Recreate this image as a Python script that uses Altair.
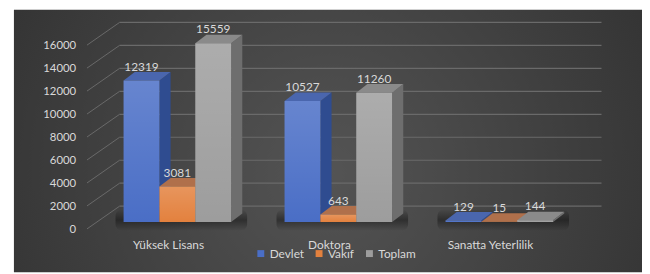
import altair as alt
import pandas as pd

categories = ["Yüksek Lisans", "Doktora", "Sanatta Yeterlilik"]
series = ["Devlet", "Vakıf", "Toplam"]
devlet = [12319, 10527, 129]
vakif = [3081, 643, 15]
toplam = [15559, 11260, 144]
y_ticks = [0, 2000, 4000, 6000, 8000, 10000, 12000, 14000, 16000]

# styles
FONT = "Lato"
TXT = "#d9d9d9"
front_colors = ["#4a6ec6", "#e3813e", "#9d9d9d"]
side_colors = ["#2f4c90", "#a95f2c", "#6e6e6e"]
top_colors = ["#4a66ae", "#b0704b", "#8a8a8a"]

W, H = 642, 266
BW = 0.2227          # bar width in category units
DX = 0.0693          # depth offset (x, category units)
DY = 748             # depth offset (y, value units)

values = [devlet, vakif, toplam]
front_rows, side_rows, top_rows = [], [], []
for i, cat in enumerate(categories):
    for j, ser in enumerate(series):
        v = values[j][i]
        xl = i - 1.5 * BW + j * BW
        xr = xl + BW
        bid = f"{i}-{j}"
        front_rows.append(dict(cat=cat, series=ser, value=v, xl=xl, xr=xr, xc=(xl + xr) / 2, base=0))
        side_rows.append(dict(id=bid, series=ser, x=xr, y=v, y2=0))
        side_rows.append(dict(id=bid, series=ser, x=xr + DX, y=v + DY, y2=DY))
        top_rows.append(dict(id=bid, series=ser, y=v, x=xl, x2=xr))
        top_rows.append(dict(id=bid, series=ser, y=v + DY, x=xl + DX, x2=xr + DX))

front_df = pd.DataFrame(front_rows)
side_df = pd.DataFrame(side_rows)
top_df = pd.DataFrame(top_rows)
tick_df = pd.DataFrame({"value": y_ticks})
cat_df = pd.DataFrame({"idx": list(range(len(categories))), "cat": categories})
shadow_df = pd.DataFrame({"sl": [i - 1.5 * BW - 0.05 for i in range(len(categories))],
                          "sr": [i + 1.5 * BW + DX + 0.03 for i in range(len(categories))]})

xs = alt.Scale(domain=[-1.0521, 2.8865], nice=False, zero=False)
ys = alt.Scale(domain=[-4385, 18487], nice=False, zero=False)

bg = alt.Chart(pd.DataFrame({"a": [0]})).mark_rect(
    fill=alt.Gradient(
        gradient="radial",
        stops=[alt.GradientStop(color="#545454", offset=0),
               alt.GradientStop(color="#2a2a2a", offset=1)],
        x1=0.5, y1=0.55, x2=0.5, y2=0.55, r1=0, r2=0.75,
    )
).encode(x=alt.value(6), x2=alt.value(W), y=alt.value(0), y2=alt.value(H))

grid = alt.Chart(tick_df).mark_rule(color="#6a6a6a", strokeWidth=1.2, yOffset=-16).encode(
    x=alt.value(113), x2=alt.value(601),
    y=alt.Y("value:Q", scale=ys, axis=None),
)
grid2 = alt.Chart(tick_df).mark_rule(color="#6a6a6a", strokeWidth=1, yOffset=7, y2Offset=-16).encode(
    x=alt.value(80), x2=alt.value(113),
    y=alt.Y("value:Q", scale=ys, axis=None), y2="value:Q",
)
ticklabels = alt.Chart(tick_df).mark_text(
    font=FONT, fontSize=11.5, color=TXT, align="right", baseline="middle", dy=8
).encode(
    x=alt.value(69),
    y=alt.Y("value:Q", scale=ys, axis=None),
    text="value:Q",
)

shadow = alt.Chart(shadow_df).mark_rect(
    cornerRadius=7,
    fill=alt.Gradient(
        gradient="linear",
        stops=[alt.GradientStop(color="rgba(0,0,0,0.0)", offset=0),
               alt.GradientStop(color="rgba(0,0,0,0.38)", offset=0.5),
               alt.GradientStop(color="rgba(0,0,0,0.0)", offset=1)],
        x1=0, y1=0, x2=0, y2=1,
    )
).encode(
    x=alt.X("sl:Q", scale=xs, axis=None), x2="sr:Q",
    y=alt.value(202), y2=alt.value(224),
)

sides = alt.Chart(side_df).mark_area(interpolate="linear").encode(
    x=alt.X("x:Q", scale=xs, axis=None),
    y=alt.Y("y:Q", scale=ys, axis=None), y2="y2:Q",
    detail="id:N",
    color=alt.Color("series:N", scale=alt.Scale(domain=series, range=side_colors), legend=None),
)
tops = alt.Chart(top_df).mark_area(orient="horizontal", interpolate="linear").encode(
    y=alt.Y("y:Q", scale=ys, axis=None),
    x=alt.X("x:Q", scale=xs, axis=None), x2="x2:Q",
    detail="id:N",
    color=alt.Color("series:N", scale=alt.Scale(domain=series, range=top_colors), legend=None),
)
fronts = alt.Chart(front_df).mark_rect().encode(
    x=alt.X("xl:Q", scale=xs, axis=None), x2="xr:Q",
    y=alt.Y("value:Q", scale=ys, axis=None), y2="base:Q",
    color=alt.Color("series:N", scale=alt.Scale(domain=series, range=front_colors),
                    legend=alt.Legend(orient="none", legendX=250, legendY=241, direction="horizontal",
                                      title=None, symbolType="square", symbolSize=49,
                                      symbolStrokeWidth=0, labelFont=FONT, labelFontSize=12,
                                      labelColor=TXT, columnPadding=9, labelOffset=3)),
)
shine = alt.Chart(front_df).mark_rect(
    fill=alt.Gradient(
        gradient="linear",
        stops=[alt.GradientStop(color="rgba(255,255,255,0.16)", offset=0),
               alt.GradientStop(color="rgba(255,255,255,0.0)", offset=1)],
        x1=0, y1=0, x2=0, y2=1,
    )
).encode(
    x=alt.X("xl:Q", scale=xs, axis=None), x2="xr:Q",
    y=alt.Y("value:Q", scale=ys, axis=None), y2="base:Q",
)
labels = alt.Chart(front_df).mark_text(font=FONT, fontSize=12, color=TXT, baseline="middle", dy=-14).encode(
    x=alt.X("xc:Q", scale=xs, axis=None),
    y=alt.Y("value:Q", scale=ys, axis=None),
    text="value:Q",
)
cats = alt.Chart(cat_df).mark_text(font=FONT, fontSize=12, color=TXT, baseline="middle", dx=-9).encode(
    x=alt.X("idx:Q", scale=xs, axis=None),
    y=alt.value(238),
    text="cat:N",
)

chart = alt.layer(bg, grid, grid2, ticklabels, shadow, sides, tops, fronts, shine, labels, cats).resolve_scale(
    color="independent"
).properties(
    width=W, height=H, autosize=alt.AutoSizeParams(type="none"), padding=0, background="white"
).configure_view(stroke=None)

chart.save("out.html", embed_options={"renderer": "svg", "actions": False})
